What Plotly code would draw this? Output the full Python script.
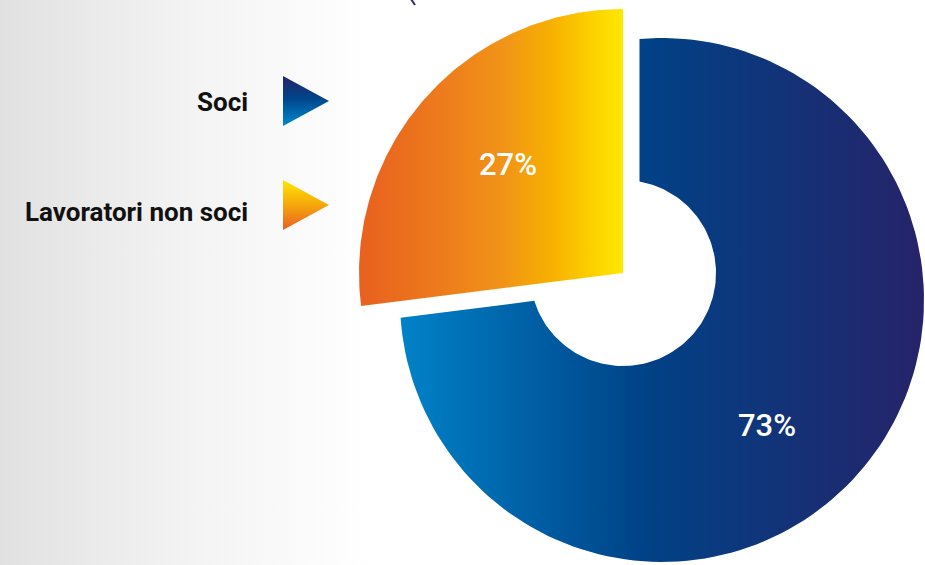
import numpy as np
import plotly.graph_objects as go

# ---- data ----
labels = ["Soci", "Lavoratori non soci"]
values = [73, 27]
pct_text = [f"{v}%" for v in values]

# ---- styling / geometry (pixel space, y grows downward) ----
W, H_PX = 925, 565
CENTER = np.array([623.0, 273.0])        # donut centre
R_OUT_BLUE = 262.0
R_OUT_ORANGE = 264.0
R_HOLE = 93.0
BLUE_PULL = 22.0                          # apex shift of the big slice
BLUE_CIRCLE_OFFSET = np.array([39.0, 27.0])  # shift of its outer circle

blue_scale = [[0, "#0082c8"], [0.46, "#004287"], [1, "#262369"]]
orange_scale = [[0, "#e8601f"], [0.3, "#ed7a1c"], [0.55, "#f19417"],
                [0.73, "#f7b000"], [0.87, "#fcce00"], [1, "#ffe800"]]


def pt(c, ang_deg, r):
    a = np.radians(ang_deg)
    return c + r * np.array([np.cos(a), -np.sin(a)])


def ang_of(c, p):
    d = p - c
    return np.degrees(np.arctan2(-d[1], d[0]))


def ray_circle(p, ang_deg, c, r):
    a = np.radians(ang_deg)
    d = np.array([np.cos(a), -np.sin(a)])
    f = p - c
    b = d @ f
    cc = f @ f - r * r
    t = -b + np.sqrt(b * b - cc)
    return p + t * d


def arc(c, r, a0, a1, n=140):
    aa = np.linspace(a0, a1, n)
    return np.array([pt(c, a, r) for a in aa])


total = sum(values)
span = [v / total * 360.0 for v in values]
# orange (second value) runs counter-clockwise from 12 o'clock
o_a0 = 90.0
o_a1 = 90.0 + span[1]
# blue covers the rest
b_a0 = o_a1
b_a1 = 450.0
b_mid = (b_a0 + b_a1) / 2.0

# orange wedge (no hole, not pulled)
Q = CENTER
o_arc = arc(Q, R_OUT_ORANGE, o_a0, o_a1)
orange_poly = np.vstack([Q, o_arc, Q])

# blue slice (pulled, with hole)
P = pt(CENTER, b_mid, BLUE_PULL)
Cb = CENTER + BLUE_CIRCLE_OFFSET
out_top = ray_circle(P, 90.0, Cb, R_OUT_BLUE)
out_left = ray_circle(P, b_a0, Cb, R_OUT_BLUE)
in_top = ray_circle(P, 90.0, CENTER, R_HOLE)
in_left = ray_circle(P, b_a0, CENTER, R_HOLE)
a_ot = ang_of(Cb, out_top)
a_ol = ang_of(Cb, out_left)
if a_ol > a_ot:
    a_ol -= 360
outer = arc(Cb, R_OUT_BLUE, a_ot, a_ol)
a_il = ang_of(CENTER, in_left)
a_it = ang_of(CENTER, in_top)
if a_il > a_it:
    a_il -= 360
inner = arc(CENTER, R_HOLE, a_il, a_it)
blue_poly = np.vstack([outer, inner, outer[:1]])

fig = go.Figure()

# background grey fade on the left
fig.add_trace(go.Scatter(
    x=[0, 370, 370, 0, 0], y=[0, 0, H_PX, H_PX, 0], mode="lines",
    fill="toself", line=dict(width=0),
    fillgradient=dict(type="horizontal",
                      colorscale=[[0, "#e1e1e1"], [0.5, "#f3f3f3"], [1, "#ffffff"]]),
    hoverinfo="skip", showlegend=False))

fig.add_trace(go.Scatter(
    x=blue_poly[:, 0], y=blue_poly[:, 1], mode="lines", fill="toself",
    line=dict(width=0), fillgradient=dict(type="horizontal", colorscale=blue_scale),
    name=labels[0], hoverinfo="name", showlegend=False))

fig.add_trace(go.Scatter(
    x=orange_poly[:, 0], y=orange_poly[:, 1], mode="lines", fill="toself",
    line=dict(width=0), fillgradient=dict(type="horizontal", colorscale=orange_scale),
    name=labels[1], hoverinfo="name", showlegend=False))

# small stray stroke at the top edge
fig.add_trace(go.Scatter(x=[411, 415], y=[-1, 5], mode="lines",
                         line=dict(color="#2b2a6e", width=2),
                         hoverinfo="skip", showlegend=False))

# legend triangles with vertical gradients (scale runs bottom -> top)
tri_scales = [
    [[0, "#0089cd"], [0.55, "#00458a"], [1, "#262369"]],
    [[0, "#e85f20"], [0.5, "#f6a70c"], [1, "#ffe600"]],
]
legend_y = [101, 205]
for ly, sc in zip(legend_y, tri_scales):
    fig.add_trace(go.Scatter(
        x=[283, 329, 283, 283], y=[ly - 25, ly, ly + 25, ly - 25], mode="lines",
        fill="toself", line=dict(width=0),
        fillgradient=dict(type="vertical", colorscale=sc),
        hoverinfo="skip", showlegend=False))

annotations = []
label_y = [102, 212]
for lab, ly in zip(labels, label_y):
    annotations.append(dict(
        x=250, y=ly, xref="x", yref="y", text=f"<b>{lab}</b>", showarrow=False,
        xanchor="right", yanchor="middle",
        font=dict(family="Roboto", size=26, color="#111111")))

# percentage labels
pct_pos = [CENTER + np.array([144.0, 152.0]), CENTER + np.array([-115.0, -109.0])]
for txt, pos in zip(pct_text, pct_pos):
    annotations.append(dict(
        x=pos[0], y=pos[1], xref="x", yref="y", text=txt, showarrow=False,
        xanchor="center", yanchor="middle",
        font=dict(family="Roboto", size=31, weight=500, color="#ffffff")))

fig.update_layout(
    width=W, height=H_PX, margin=dict(l=0, r=0, t=0, b=0),
    paper_bgcolor="#ffffff", plot_bgcolor="#ffffff",
    xaxis=dict(range=[0, W], visible=False, fixedrange=True),
    yaxis=dict(range=[H_PX, 0], visible=False, fixedrange=True),
    annotations=annotations, showlegend=False,
)

fig.write_html("out.html", config={"displayModeBar": False},
               post_script="document.body.style.margin='0';document.body.style.overflow='hidden';")
